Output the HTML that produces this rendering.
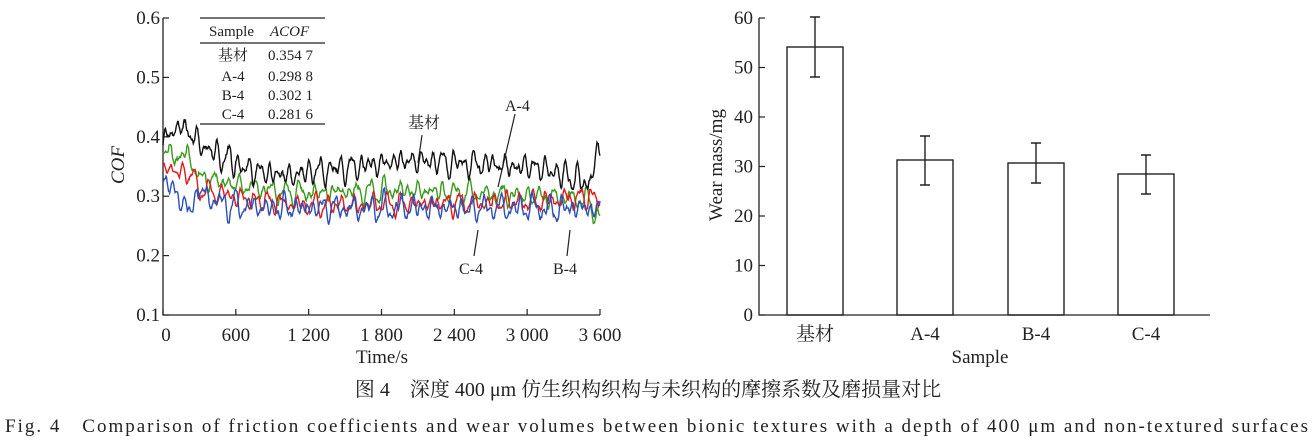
<!DOCTYPE html>
<html><head><meta charset="utf-8"><style>
html,body{margin:0;padding:0;background:#fff;}
svg{display:block;font-family:"Liberation Serif","Noto Serif CJK SC",serif;}
</style></head><body>
<svg id="s" width="1313" height="444" viewBox="0 0 1313 444" xmlns="http://www.w3.org/2000/svg">
<g stroke="#222" stroke-width="1.3" fill="none">
<path d="M163,18 V315 H600"/>
<path d="M759,18 V315 H1210"/>
</g>
<g id="lt" stroke="#222" stroke-width="1.2"></g>
<g id="series" fill="none" stroke-width="1.4"></g>
<g font-size="19" fill="#222" text-anchor="end" id="ly"></g>
<g font-size="19" fill="#222" text-anchor="middle" id="lx"></g>
<text x="382" y="363" font-size="19" text-anchor="middle" fill="#222">Time/s</text>
<text transform="translate(124,165) rotate(-90)" font-size="19" font-style="italic" text-anchor="middle" fill="#222">COF</text>
<g fill="#222" font-size="15">
<line x1="200" y1="18" x2="325" y2="18" stroke="#222" stroke-width="1.2"/>
<line x1="200" y1="43" x2="325" y2="43" stroke="#222" stroke-width="1.2"/>
<line x1="200" y1="124" x2="325" y2="124" stroke="#222" stroke-width="1.2"/>
<text x="209" y="36">Sample</text><text x="270" y="36" font-style="italic">ACOF</text>
<text x="233" y="60" text-anchor="middle">基材</text><text x="268" y="60">0.354 7</text>
<text x="233" y="81" text-anchor="middle">A-4</text><text x="268" y="81">0.298 8</text>
<text x="233" y="100" text-anchor="middle">B-4</text><text x="268" y="100">0.302 1</text>
<text x="233" y="119" text-anchor="middle">C-4</text><text x="268" y="119">0.281 6</text>
</g>
<g fill="#222" font-size="16" stroke="#222" stroke-width="1.2">
<text x="408" y="128" stroke="none">基材</text>
<line x1="422" y1="135" x2="418" y2="163"/>
<text x="505" y="111" stroke="none">A-4</text>
<line x1="515" y1="114" x2="498" y2="187"/>
<text x="459" y="274" stroke="none">C-4</text>
<line x1="474" y1="256" x2="478" y2="230"/>
<text x="553" y="274" stroke="none">B-4</text>
<line x1="567" y1="256" x2="570" y2="230"/>
</g>
<g id="rt" stroke="#222" stroke-width="1.2"></g>
<g font-size="19" fill="#222" text-anchor="end" id="ry"></g>
<g fill="none" stroke="#222" stroke-width="1.4">
<rect x="787" y="47" width="56" height="268"/>
<rect x="897" y="160" width="56" height="155"/>
<rect x="1008" y="163" width="56" height="152"/>
<rect x="1118" y="174" width="56" height="141"/>
<path d="M815,17V77M810,17h10M810,77h10"/>
<path d="M925,136V185M920,136h10M920,185h10"/>
<path d="M1036,143V183M1031,143h10M1031,183h10"/>
<path d="M1146,155V194M1141,155h10M1141,194h10"/>
</g>
<g font-size="19" fill="#222" text-anchor="middle">
<text x="815" y="340">基材</text><text x="925" y="340">A-4</text><text x="1036" y="340">B-4</text><text x="1146" y="340">C-4</text>
<text x="980" y="363">Sample</text>
</g>
<text transform="translate(722,165) rotate(-90)" font-size="19" text-anchor="middle" fill="#222">Wear mass/mg</text>
<text x="648" y="396" font-size="20" text-anchor="middle" fill="#222">图 4　深度 400 μm 仿生织构织构与未织构的摩擦系数及磨损量对比</text>
<text x="5" y="432" font-size="19" fill="#222" textLength="1303" lengthAdjust="spacing">Fig. 4　Comparison of friction coefficients and wear volumes between bionic textures with a depth of 400 μm and non-textured surfaces</text>
</svg>
<script>
var NS="http://www.w3.org/2000/svg";
function el(p,t,a,tx){var e=document.createElementNS(NS,t);for(var k in a)e.setAttribute(k,a[k]);if(tx!==undefined)e.textContent=tx;document.getElementById(p).appendChild(e);}
var X=function(t){return 163+t/3600*437}, Y=function(v){return 315-(v-0.1)/0.1*59.4};
for(var i=0;i<=5;i++){var v=0.1+i*0.1;el("ly","text",{x:160,y:Y(v)+6},v.toFixed(1));el("lt","line",{x1:163,x2:169,y1:Y(v),y2:Y(v)});}
var xl=["0","600","1 200","1 800","2 400","3 000","3 600"];
for(var i=0;i<7;i++){var x=X(i*600);el("lx","text",{x:i==0?166:x,y:341},xl[i]);el("lt","line",{x1:x,x2:x,y1:315,y2:309});}
for(var i=0;i<=6;i++){var y=315-i*49.5;el("ry","text",{x:753,y:y+6},String(i*10));el("rt","line",{x1:759,x2:765,y1:y,y2:y});}
var seed=11;function r(){seed=(seed*16807)%2147483647;return seed/2147483647-0.5;}
function base(pts,t){for(var i=0;i<pts.length-1;i++){if(t<=pts[i+1][0]){var a=pts[i],b=pts[i+1];return a[1]+(b[1]-a[1])*(t-a[0])/(b[0]-a[0]);}}return pts[pts.length-1][1];}
function series(col,pts,amp){
 var comps=[];for(var k=0;k<5;k++)comps.push([55+k*22+r()*15,r()*6.28,0.6+r()*0.6]);
 var d="",s=0;
 for(var t=0;t<=3600;t+=5){var o=0;for(var k=0;k<comps.length;k++)o+=comps[k][2]*Math.sin(t/comps[k][0]*6.283+comps[k][1]);
  s=0.5*s+0.5*r();var v=base(pts,t)+amp*o/2.0+s*amp*0.6;
  d+=(t?"L":"M")+X(t).toFixed(1)+","+Y(v).toFixed(1);}
 el("series","path",{d:d,stroke:col});}
series("#3a9a1e",[[0,0.38],[40,0.37],[220,0.365],[300,0.33],[600,0.32],[1000,0.305],[2000,0.31],[3000,0.3],[3500,0.295],[3600,0.26]],0.02);
series("#e01b1b",[[0,0.35],[60,0.345],[240,0.335],[300,0.31],[700,0.295],[1200,0.285],[3000,0.29],[3600,0.3]],0.019);
series("#2a4fb5",[[0,0.34],[60,0.31],[150,0.30],[200,0.265],[280,0.31],[500,0.285],[1000,0.28],[3600,0.28]],0.021);
series("#111",[[0,0.39],[60,0.41],[200,0.415],[280,0.39],[400,0.375],[700,0.345],[1000,0.335],[1200,0.34],[2000,0.36],[2600,0.355],[3200,0.345],[3500,0.32],[3600,0.375]],0.025);
</script>
</body></html>
